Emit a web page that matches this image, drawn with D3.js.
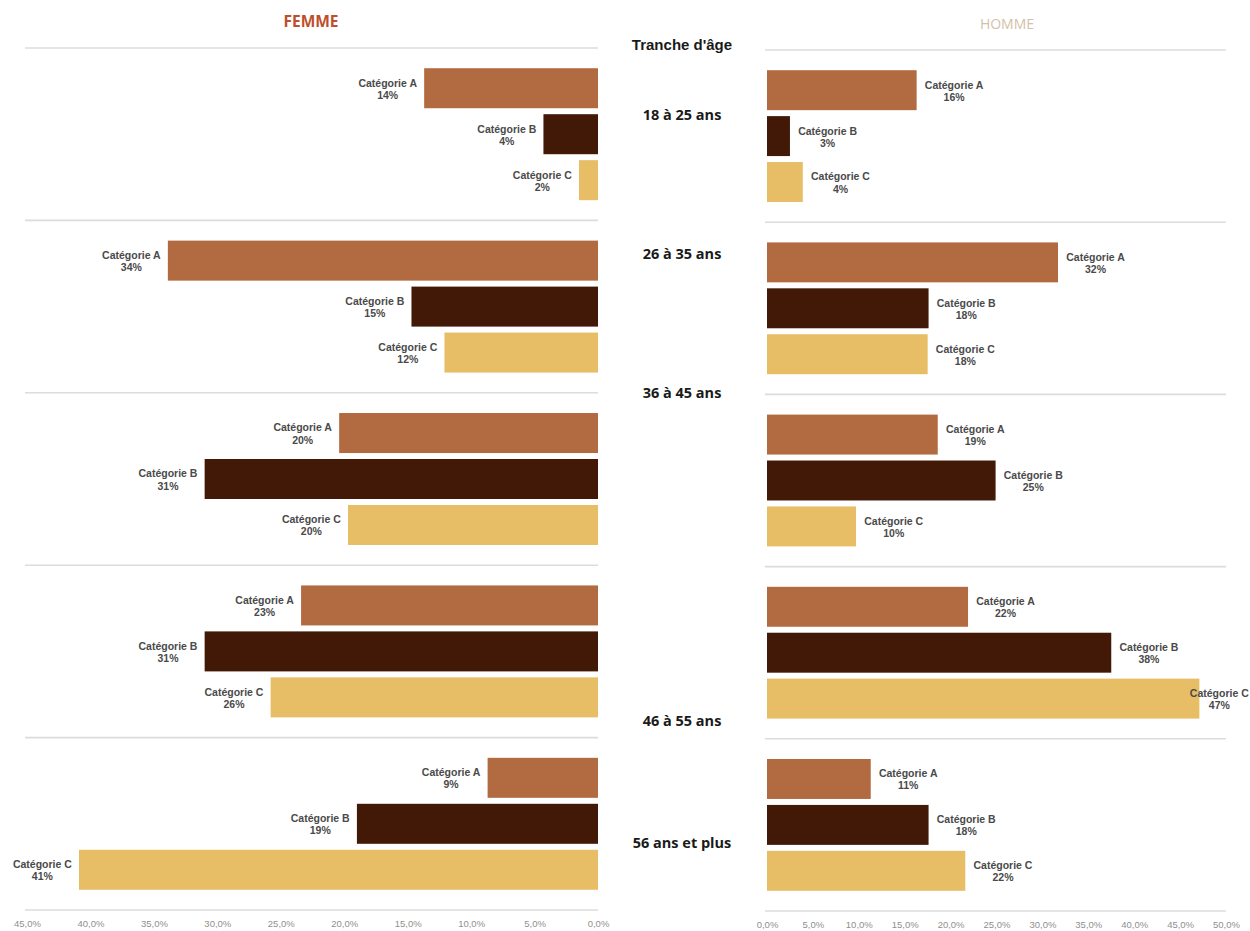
<!DOCTYPE html>
<html>
<head>
<meta charset="utf-8">
<script src="https://cdn.jsdelivr.net/npm/d3@7"></script>
<style>
  html, body { margin: 0; padding: 0; background: #ffffff; }
  svg { display: block; }
</style>
</head>
<body>
<svg id="chart" width="1250" height="931"></svg>
<script>
// ---- Data ----
const ages = ["18 à 25 ans", "26 à 35 ans", "36 à 45 ans", "46 à 55 ans", "56 ans et plus"];
const categories = ["Catégorie A", "Catégorie B", "Catégorie C"];
const femmeA = [13.7, 33.9, 20.4, 23.4, 8.7];
const femmeB = [4.3, 14.7, 31.0, 31.0, 19.0];
const femmeC = [1.5, 12.1, 19.7, 25.8, 40.9];
const hommeA = [16.3, 31.7, 18.6, 21.9, 11.3];
const hommeB = [2.5, 17.6, 24.9, 37.5, 17.6];
const hommeC = [3.9, 17.5, 9.7, 47.1, 21.6];
const femmeTicks = [45, 40, 35, 30, 25, 20, 15, 10, 5, 0];
const hommeTicks = [0, 5, 10, 15, 20, 25, 30, 35, 40, 45, 50];

// ---- Styles ----
const colors = { "Catégorie A": "#B26A41", "Catégorie B": "#421806", "Catégorie C": "#E7BD65" };
const gridColor = "#DCDCDC";
const labelFont = "'Liberation Sans', Arial, sans-serif";

const svg = d3.select("#chart");

function rows(A, B, C) {
  const out = [];
  ages.forEach((age, i) => {
    out.push({ age, cat: categories[0], v: A[i] });
    out.push({ age, cat: categories[1], v: B[i] });
    out.push({ age, cat: categories[2], v: C[i] });
  });
  return out;
}

const fmtTick = v => d3.format(".1f")(v).replace(".", ",") + "%";

function panel(opts) {
  const { data, x, yTop, yBottom, side, ticks, lineX0, lineX1 } = opts;
  const y = d3.scaleBand().domain(ages).range([yTop, yBottom]).paddingInner(0).paddingOuter(0);
  const yi = d3.scaleBand().domain(categories).range([0, y.bandwidth()])
    .paddingInner(0.13).paddingOuter(0.44);
  const g = svg.append("g");

  // separators
  const bounds = ages.map(a => y(a)).concat([yBottom]);
  g.selectAll("line.sep").data(bounds).enter().append("line")
    .attr("x1", lineX0).attr("x2", lineX1)
    .attr("y1", d => d).attr("y2", d => d)
    .attr("stroke", gridColor).attr("stroke-width", 1.6);

  // bars
  g.selectAll("rect.bar").data(data).enter().append("rect")
    .attr("x", d => side === "left" ? x(d.v) : x(0))
    .attr("width", d => Math.abs(x(d.v) - x(0)))
    .attr("y", d => y(d.age) + yi(d.cat))
    .attr("height", yi.bandwidth())
    .attr("fill", d => colors[d.cat]);

  // data labels
  const lab = g.selectAll("text.lab").data(data).enter().append("text")
    .attr("font-family", labelFont).attr("font-size", 10.5).attr("font-weight", "bold")
    .attr("fill", "#4a4a4a").attr("text-anchor", "middle");
  lab.append("tspan").attr("x", 0).attr("dy", "-0.15em").text(d => d.cat);
  lab.append("tspan").attr("x", 0).attr("dy", "1.15em").text(d => Math.round(d.v) + "%");
  lab.each(function(d) {
    const w = this.getBBox().width;
    const cy = y(d.age) + yi(d.cat) + yi.bandwidth() / 2;
    let cx;
    if (side === "left") {
      cx = x(d.v) - 7 - w / 2;
    } else {
      cx = x(d.v) + 8 + w / 2;
      if (cx + w / 2 > 1249) cx = 1249 - w / 2;
    }
    d3.select(this).attr("transform", `translate(${cx},${cy})`);
  });

  // axis tick labels
  const ax = g.append("g").attr("transform", `translate(0,${yBottom})`)
    .call(d3.axisBottom(x).tickValues(ticks).tickFormat(fmtTick).tickSize(0).tickPadding(10));
  ax.select(".domain").remove();
  ax.selectAll("text").attr("font-family", labelFont).attr("font-size", 9.5).attr("fill", "#8f8f8f");
  return y;
}

// Femme (left) panel
const xF = d3.scaleLinear().domain([0, 45]).range([598, 27]);
const yF = panel({ data: rows(femmeA, femmeB, femmeC), x: xF, yTop: 48, yBottom: 910,
  side: "left", ticks: femmeTicks, lineX0: 25, lineX1: 598 });

// Homme (right) panel
const xH = d3.scaleLinear().domain([0, 50]).range([767, 1226]);
panel({ data: rows(hommeA, hommeB, hommeC), x: xH, yTop: 50, yBottom: 911,
  side: "right", ticks: hommeTicks, lineX0: 765, lineX1: 1226 });

// Titles
svg.append("text").attr("x", 311).attr("y", 27).attr("text-anchor", "middle")
  .attr("font-family", "'Open Sans', sans-serif").attr("font-weight", "bold").attr("font-size", 15.5)
  .attr("fill", "#BE4F2C").text("FEMME");
svg.append("text").attr("x", 1007).attr("y", 29).attr("text-anchor", "middle")
  .attr("font-family", "'Open Sans', sans-serif").attr("font-weight", "normal").attr("font-size", 14)
  .attr("fill", "#D2C1A8").text("HOMME");

// Middle age labels (placement within each age band, as in the source)
const midX = 682;
svg.append("text").attr("x", midX).attr("y", 50).attr("text-anchor", "middle")
  .attr("font-family", labelFont).attr("font-weight", "bold").attr("font-size", 15)
  .attr("fill", "#1a1a1a").text("Tranche d'âge");
const ageLabelOffset = [72, 39, 5, 161, 110];
svg.selectAll("text.age").data(ages).enter().append("text")
  .attr("x", midX).attr("y", (d, i) => yF(d) + ageLabelOffset[i])
  .attr("text-anchor", "middle")
  .attr("font-family", "'Open Sans', sans-serif").attr("font-weight", "bold").attr("font-size", 14.5)
  .attr("fill", "#1a1a1a").text(d => d);
</script>
</body>
</html>
